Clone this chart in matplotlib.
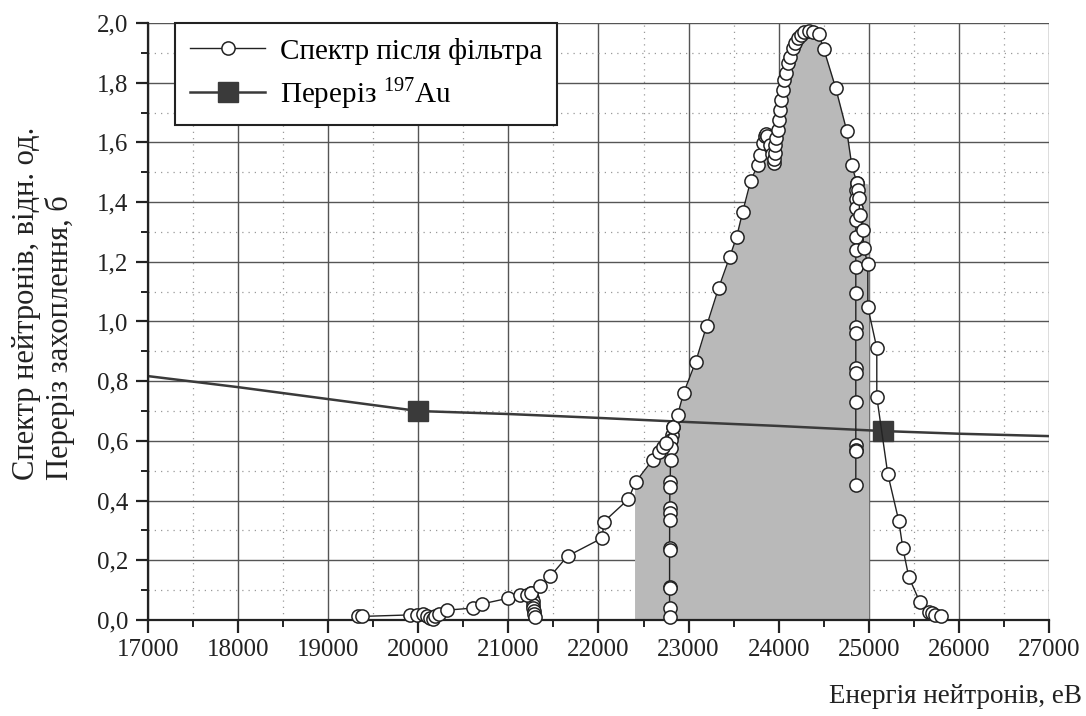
import matplotlib
matplotlib.use('Agg')
import matplotlib.pyplot as plt
from matplotlib.ticker import MultipleLocator, FuncFormatter

# spectrum after filter (main branch)
spec_e = [19330, 19380, 19910, 19980, 20050, 20100, 20130, 20160, 20190,
          20230, 20320, 20610, 20710, 21000, 21133, 21210, 21250, 21356,
          21467, 21656, 22044, 22056, 22333, 22411, 22600, 22667, 22711,
          22744, 22822, 22878, 22944, 23078, 23200, 23333, 23456, 23533,
          23600, 23689, 23767, 23789, 23822, 23845, 23856, 23870, 23900,
          23930, 23944, 23950, 23955, 23960, 23967, 23989, 24000, 24011,
          24022, 24044, 24056, 24078, 24100, 24122, 24156, 24178, 24211,
          24244, 24278, 24333, 24378, 24444, 24500, 24633, 24756, 24811,
          24867, 24880, 24890, 24900, 24933, 24944, 24989, 24989, 25089,
          25089, 25211, 25333, 25378, 25444, 25567, 25667, 25700, 25740,
          25800]
spec_v = [0.012, 0.012, 0.017, 0.018, 0.020, 0.015, 0.008, 0.004, 0.012,
          0.020, 0.033, 0.040, 0.054, 0.073, 0.083, 0.085, 0.090, 0.114,
          0.147, 0.214, 0.275, 0.328, 0.405, 0.462, 0.536, 0.563, 0.580,
          0.593, 0.647, 0.687, 0.760, 0.864, 0.985, 1.112, 1.216, 1.283,
          1.367, 1.471, 1.524, 1.558, 1.598, 1.620, 1.628, 1.622, 1.590,
          1.560, 1.531, 1.545, 1.565, 1.590, 1.615, 1.642, 1.675, 1.709,
          1.742, 1.776, 1.809, 1.832, 1.866, 1.886, 1.916, 1.933, 1.950,
          1.960, 1.970, 1.973, 1.970, 1.963, 1.913, 1.782, 1.638, 1.524,
          1.464, 1.440, 1.414, 1.357, 1.307, 1.246, 1.193, 1.049, 0.911,
          0.747, 0.489, 0.332, 0.241, 0.144, 0.060, 0.028, 0.022, 0.018,
          0.013]

# vertical runs of points hanging from the main branch
run1_e = [22822, 22815, 22810, 22805, 22800, 22795, 22793, 22790, 22790,
          22790, 22789, 22789, 22789, 22789, 22789, 22789]
run1_v = [0.647, 0.620, 0.603, 0.576, 0.536, 0.462, 0.446, 0.375, 0.358,
          0.335, 0.241, 0.234, 0.111, 0.107, 0.040, 0.010]
run2_e = [24867, 24860, 24858, 24856, 24856, 24856, 24856, 24856, 24856,
          24856, 24856, 24856, 24856, 24856, 24856, 24856, 24856, 24856]
run2_v = [1.464, 1.440, 1.410, 1.380, 1.340, 1.283, 1.240, 1.183, 1.095,
          0.980, 0.961, 0.844, 0.827, 0.730, 0.586, 0.570, 0.566, 0.452]
run3_e = [21250, 21260, 21270, 21270, 21275, 21280, 21285, 21290]
run3_v = [0.090, 0.075, 0.062, 0.050, 0.040, 0.030, 0.020, 0.010]

# shaded region under the spectrum
fill_e = [22400, 22411, 22600, 22744, 22822, 22944, 23078, 23200, 23333,
          23456, 23600, 23689, 23767, 23856, 23989, 24022, 24100, 24178,
          24278, 24378, 24444, 24500, 24633, 24756, 24811, 24867, 25000]
fill_v = [0.460, 0.462, 0.536, 0.593, 0.647, 0.760, 0.864, 0.985, 1.112,
          1.216, 1.367, 1.471, 1.524, 1.630, 1.660, 1.742, 1.866, 1.933,
          1.970, 1.970, 1.963, 1.913, 1.782, 1.638, 1.524, 1.470, 1.460]

# capture cross section of 197Au
au_e = [17000, 18000, 19000, 20000, 21000, 22000, 23000, 24000, 25156,
        26000, 27000]
au_v = [0.817, 0.780, 0.740, 0.700, 0.690, 0.677, 0.663, 0.650, 0.633,
        0.624, 0.616]
au_marks = [3, 8]

plt.rcParams['font.family'] = ['Liberation Serif', 'DejaVu Serif']

fig = plt.figure(figsize=(10.86, 7.16), dpi=100, facecolor='white')
ax = fig.add_axes([0.1363, 0.1341, 0.8296, 0.8338])

ax.fill_between(fill_e, fill_v, 0, color='#b9b9b9', lw=0, zorder=1)

ax.plot(au_e, au_v, color='#3a3a3a', lw=1.8, marker='s', markersize=14,
        markevery=au_marks, markerfacecolor='#3a3a3a',
        markeredgecolor='#3a3a3a', zorder=2,
        label='Переріз $^{\\mathregular{197}}$Au')

sty = dict(color='#222222', lw=1.0, marker='o', markersize=9.5,
           markerfacecolor='white', markeredgecolor='#222222',
           markeredgewidth=1.1, clip_on=False, zorder=3)
for e, v in [(run1_e, run1_v), (run2_e, run2_v), (run3_e, run3_v)]:
    ax.plot(e, v, **sty)
ax.plot(spec_e, spec_v, label='Спектр після фільтра', **sty)

ax.set_xlim(17000, 27000)
ax.set_ylim(0, 2.0)
ax.xaxis.set_major_locator(MultipleLocator(1000))
ax.xaxis.set_minor_locator(MultipleLocator(500))
ax.yaxis.set_major_locator(MultipleLocator(0.2))
ax.yaxis.set_minor_locator(MultipleLocator(0.1))
ax.yaxis.set_major_formatter(
    FuncFormatter(lambda v, p: '{:.1f}'.format(v).replace('.', ',')))
ax.xaxis.set_major_formatter(FuncFormatter(lambda v, p: '%d' % v))

ax.set_axisbelow(True)
ax.grid(which='major', color='#555555', lw=1.0, ls='-')
ax.grid(which='minor', color='#999999', lw=0.9, ls=(0, (1, 4)))

for s in ['top', 'right']:
    ax.spines[s].set_visible(False)
for s in ['left', 'bottom']:
    ax.spines[s].set_linewidth(1.6)
    ax.spines[s].set_color('#222222')

ax.tick_params(which='major', direction='out', length=9, width=1.6,
               labelsize=18, pad=5, color='#222222', labelcolor='#222222')
ax.tick_params(which='minor', direction='out', length=5, width=1.4,
               color='#222222')

handles, labels = ax.get_legend_handles_labels()
leg = ax.legend(handles[::-1], labels[::-1], loc='upper left',
                bbox_to_anchor=(0.03, 1.0), borderaxespad=0, fontsize=21,
                handlelength=2.6, handletextpad=0.5, frameon=True,
                fancybox=False, framealpha=1, borderpad=0.5,
                labelspacing=0.35)
leg.get_frame().set_edgecolor('#222222')
leg.get_frame().set_linewidth(1.5)

fig.text(0.04, 0.3296, 'Спектр нейтронів, відн. од.\nПереріз захоплення, б',
         rotation=90, ha='center', va='bottom', multialignment='left',
         fontsize=22, color='#222222')
fig.text(0.996, 0.027, 'Енергія нейтронів, еВ', ha='right', va='center',
         fontsize=19.5, color='#222222')

fig.savefig('out.png', dpi=100, facecolor='white')
